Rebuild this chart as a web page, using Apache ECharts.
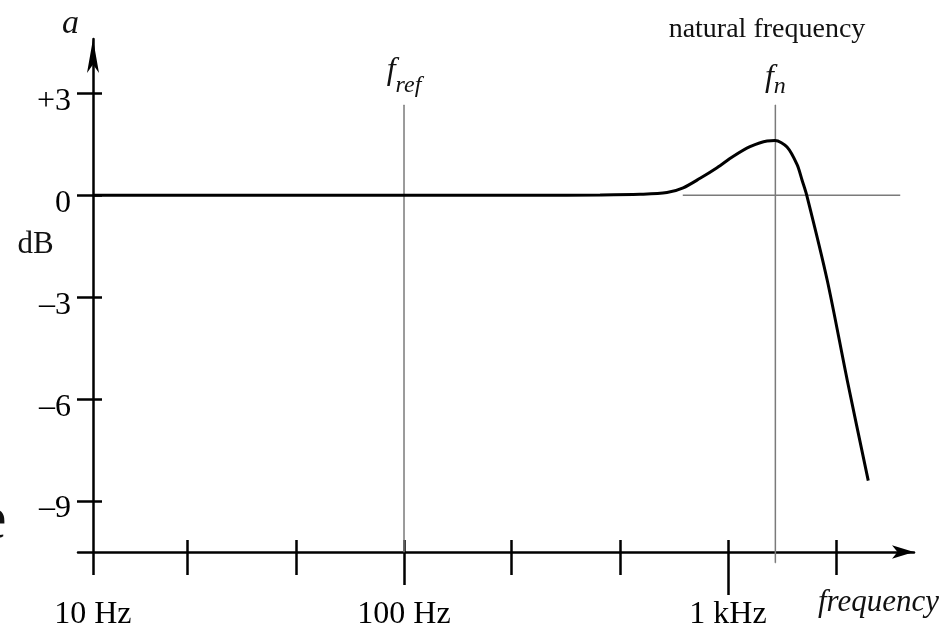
<!DOCTYPE html>
<html><head><meta charset="utf-8">
<script src="https://cdn.jsdelivr.net/npm/echarts@6/dist/echarts.min.js"></script>
<style>html,body{margin:0;padding:0;background:#fff}#c{width:941px;height:632px}</style>
</head><body><div id="c"></div>
<script>
// ---- data (frequency in Hz, level in dB) ----
const freqHz = [10.96, 100, 250, 403, 535, 648, 727, 820, 925, 1036, 1169, 1320, 1396, 1521, 1634, 1692, 1750, 2024, 2334, 2709];
const gainDb = [0, 0, 0, 0.01, 0.03, 0.08, 0.22, 0.5, 0.81, 1.14, 1.43, 1.6, 1.61, 1.42, 0.9, 0.45, 0, -2.5, -5.45, -8.4];
const yTickValues = [-9, -6, -3, 0, 3];
const yTickLabels = ['\u20139', '\u20136', '\u20133', '0', '+3'];
const xTickHz = [21.5, 46.4, 100, 215, 464, 1000, 2154];
const xLabelHz = [10.96, 100, 1000];
const xLabelText = ['10 Hz', '100 Hz', '1 kHz'];
const fRefHz = 100;
const fNatHz = 1400;
const refLineDb = [2.66, -10.5];
const natLineDb = [2.66, -10.82];
const zeroLineHz = [725, 3400];
const axisOriginHz = 10.96;

// position on the axis: thirds of a decade above 10 Hz
const pos = f => 3 * Math.log10(f / 10);
const X_MIN = -0.0185, X_MAX = 7.722, Y_MIN = -10.5, Y_MAX = 4.6;
const FONT = 'Liberation Serif';
const BLACK = '#000';
const GREY = '#7a7a7a';

const chart = echarts.init(document.getElementById('c'), null, {renderer: 'canvas'});

const xc = {type: 'value', min: X_MIN, max: X_MAX, position: 'bottom', splitLine: {show: false},
  axisLine: {show: false, onZero: false}, axisLabel: {show: false}};
const tickStyle = {color: BLACK, width: 2.5};
const yc = {type: 'value', min: Y_MIN, max: Y_MAX, position: 'left', offset: -15, splitLine: {show: false}};

const labelFor = (vals, texts) => v => {
  let best = 0;
  vals.forEach((t, i) => { if (Math.abs(t - v) < Math.abs(vals[best] - v)) best = i; });
  return texts[best];
};

const subLabel = (main, sub, distance, lh) => ({
  show: true, position: 'top', distance: distance,
  formatter: '{f|' + main + '}{s|' + sub + '}',
  rich: {f: {fontFamily: FONT, fontStyle: 'italic', fontSize: 32, lineHeight: lh, verticalAlign: 'top', color: '#111'},
         s: {fontFamily: FONT, fontStyle: 'italic', fontSize: 24, verticalAlign: 'bottom', color: '#111'}}
});

chart.setOption({
  animation: false,
  backgroundColor: '#fff',
  grid: {left: 78, right: 27, top: 39, bottom: 80, containLabel: false, outerBoundsMode: 'none'},
  xAxis: [
    Object.assign({}, xc, {
      axisLine: {show: true, onZero: false, symbol: ['none', 'arrow'], symbolSize: [10, 22],
        lineStyle: {color: BLACK, width: 2.5}},
      axisTick: {show: true, customValues: [pos(axisOriginHz)].concat(xTickHz.map(pos)), length: 23, lineStyle: tickStyle},
      axisLabel: {show: true, customValues: xLabelHz.map(pos), formatter: labelFor(xLabelHz.map(pos), xLabelText),
        margin: 47, fontFamily: FONT, fontSize: 32, color: BLACK}
    }),
    Object.assign({}, xc, {axisTick: {show: true, inside: true, customValues: xTickHz.map(pos), length: 12, lineStyle: tickStyle}}),
    Object.assign({}, xc, {axisTick: {show: true, customValues: [pos(100)], length: 33, lineStyle: tickStyle}}),
    Object.assign({}, xc, {axisTick: {show: true, customValues: [pos(1000)], length: 43, lineStyle: tickStyle}})
  ],
  yAxis: [
    Object.assign({}, yc, {
      axisLine: {show: true, onZero: false, symbol: ['none', 'arrow'], symbolSize: [9, 34],
        lineStyle: {color: BLACK, width: 2.5}},
      axisTick: {show: true, customValues: yTickValues, length: 16, lineStyle: tickStyle},
      axisLabel: {show: true, customValues: yTickValues, formatter: labelFor(yTickValues, yTickLabels),
        margin: 22, fontFamily: FONT, fontSize: 32, color: BLACK, verticalAlign: 'top', lineHeight: 8, padding: [4, 0, 0, 0]}
    }),
    Object.assign({}, yc, {
      axisLine: {show: false, onZero: false},
      axisTick: {show: true, inside: true, customValues: yTickValues, length: 9, lineStyle: tickStyle},
      axisLabel: {show: false}
    })
  ],
  series: [
    {
      name: 'ref', type: 'line', clip: false, symbol: 'circle', symbolSize: 1, showSymbol: true, z: 2, silent: true,
      itemStyle: {color: GREY}, lineStyle: {color: GREY, width: 1.5},
      data: [
        {value: [pos(fRefHz), refLineDb[0]], label: subLabel('f', 'ref', 7, 43)},
        [pos(fRefHz), refLineDb[1]]
      ]
    },
    {
      name: 'nat', type: 'line', clip: false, symbol: 'circle', symbolSize: 1, showSymbol: true, z: 2, silent: true,
      itemStyle: {color: GREY}, lineStyle: {color: GREY, width: 1.5},
      data: [
        {value: [pos(fNatHz), natLineDb[0]], label: subLabel('f', 'n', 6, 37)},
        [pos(fNatHz), natLineDb[1]]
      ]
    },
    {
      name: 'zero', type: 'line', clip: false, symbol: 'none', z: 2, silent: true,
      lineStyle: {color: GREY, width: 1.5},
      data: [[pos(zeroLineHz[0]), 0], [pos(zeroLineHz[1]), 0]]
    },
    {
      name: 'response', type: 'line', symbol: 'none', z: 3, smooth: 0.3, clip: false,
      lineStyle: {color: BLACK, width: 3},
      data: freqHz.map((f, i) => [pos(f), gainDb[i]])
    }
  ],
  graphic: [
    {type: 'text', x: 767, y: 29.5, silent: true,
      style: {text: 'natural frequency', font: '28px "Liberation Serif"', fill: '#111', align: 'center', verticalAlign: 'middle'}},
    {type: 'text', x: 70.5, y: 24, silent: true,
      style: {text: 'a', font: 'italic 34px "Liberation Serif"', fill: '#111', align: 'center', verticalAlign: 'middle'}},
    {type: 'text', x: 35.5, y: 244.5, silent: true,
      style: {text: 'dB', font: '31px "Liberation Serif"', fill: '#111', align: 'center', verticalAlign: 'middle'}},
    {type: 'text', x: 818, y: 603, silent: true,
      style: {text: 'frequency', font: 'italic 31px "Liberation Serif"', fill: '#111', align: 'left', verticalAlign: 'middle'}},
    {type: 'text', x: -21, y: 522, silent: true,
      style: {text: 'e', font: '62px "Liberation Serif"', fill: '#111', align: 'left', verticalAlign: 'middle'}}
  ]
});
</script>
</body></html>
